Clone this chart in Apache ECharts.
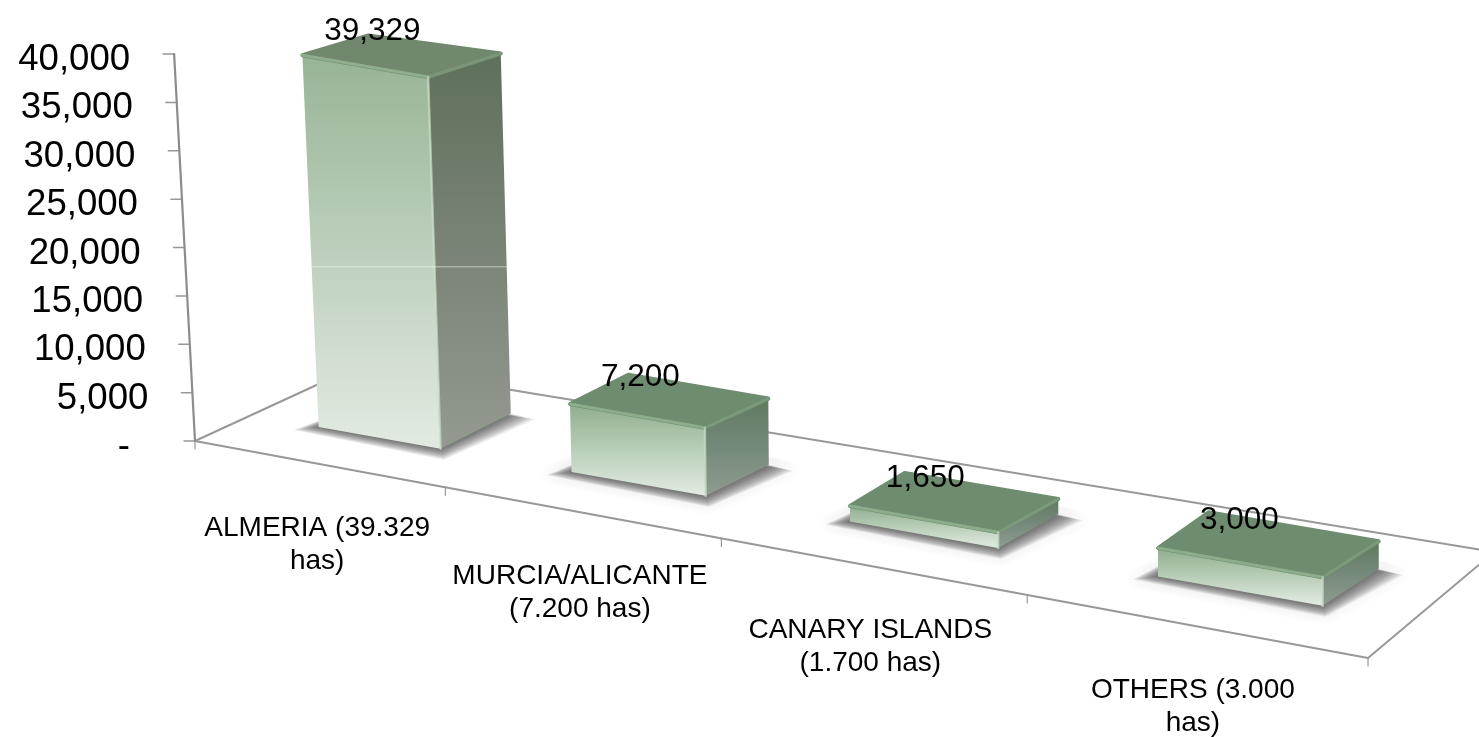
<!DOCTYPE html>
<html>
<head>
<meta charset="utf-8">
<style>html,body{margin:0;padding:0;background:#fff}#c{width:1479px;height:737px}</style>
<script src="https://cdn.jsdelivr.net/npm/echarts@6/dist/echarts.min.js"></script>
</head>
<body>
<div id="c"></div>
<script>
const categories = ["ALMERIA (39.329\nhas)", "MURCIA/ALICANTE\n(7.200 has)", "CANARY ISLANDS\n(1.700 has)", "OTHERS (3.000\nhas)"];
const values = [39329, 7200, 1650, 3000];
const valueLabels = ["39,329", "7,200", "1,650", "3,000"];
const yTickValues = [0, 5000, 10000, 15000, 20000, 25000, 30000, 35000, 40000];
const yTickLabels = ["-", "5,000", "10,000", "15,000", "20,000", "25,000", "30,000", "35,000", "40,000"];

const FONT = '"Liberation Sans", Arial, sans-serif';
const GRID = {left: 195, top: 54, width: 1173, height: 387};
const GREY = '#989898';
const gradient = (c0, c1, c2) => ({type: 'linear', x: 0, y: 0, x2: 0, y2: 1,
  colorStops: [{offset: 0, color: c0}, {offset: .5, color: c1}, {offset: 1, color: c2}]});

// Floor perspective: s runs along the front edge, t from front to back.
function floor(s, t) {
  const w = -0.1859 * s + 0.055 * t + 1;
  return [(918.7 * s + 184.8 * t + 195) / w, (94.7 * s - 55.9 * t + 441) / w];
}
// Lift a floor point by a height in pixels, with verticals leaning towards a low vanishing point.
function lift(p, h, t) {
  const k = h * (1 - 0.07 * t);
  return [p[0] - k * 0.07 * Math.max(0, 1 - p[0] / 850), p[1] - k];
}
const line = (a, b, stroke, lineWidth, z2) => ({type: 'line', z2: z2 || 0,
  shape: {x1: a[0], y1: a[1], x2: b[0], y2: b[1]}, style: {stroke, lineWidth, lineCap: 'round', fill: null}});
const poly = (points, style, z2) => ({type: 'polygon', z2: z2 || 0, shape: {points}, style});
const text = (str, x, y, size, align, lineHeight, z2) => ({type: 'text', x, y, z2: z2 || 0,
  style: {text: str, fontFamily: FONT, fontSize: size, fill: '#000', align: align, verticalAlign: 'middle', lineHeight}});

function renderFloor(params, api) {
  if (params.dataIndex !== 0) return;
  const kids = [];
  const A = floor(0, 0), B = floor(1, 0), C = floor(1, 1), D = floor(0, 1);
  kids.push(line(A, B, GREY, 2), line(B, C, GREY, 2), line(C, D, GREY, 2), line(D, A, GREY, 2));
  const y0 = api.coord([0, 0])[1];
  yTickValues.forEach((v, i) => {
    const y = api.coord([0, v])[1];
    const p = lift(A, y0 - y, 0);
    kids.push(line(p, [p[0] - 11, p[1]], GREY, 1.5));
    kids.push(text(yTickLabels[i], p[0] - (v === 0 ? 65 : 44), p[1] + 6, 36.6, 'right', 40));
  });
  kids.push(line(A, lift(A, y0 - api.coord([0, 40000])[1], 0), '#8c8c8c', 2.2));
  for (let i = 0; i <= categories.length; i++) {
    const p = floor(i / categories.length, 0);
    kids.push(line(p, [p[0], p[1] + 8], GREY, 1.2));
  }
  categories.forEach((c, i) => {
    const p = floor((i + .5) / categories.length, 0);
    kids.push(text(c, p[0], p[1] + 81, 28, 'center', 33));
  });
  return {type: 'group', children: kids};
}

function renderBar(params, api) {
  const i = api.value(0), v = api.value(1);
  const c = api.coord([i, v]), base = api.coord([i, 0]);
  const band = api.size([1, 0])[0] / GRID.width;
  const sc = (c[0] - GRID.left) / GRID.width + (0.025 - 0.008 * i) * band;
  const h = base[1] - c[1];
  const tall = v > 20000;
  const s0 = sc - 0.245 * band, s1 = sc + 0.245 * band, t0 = 0.33, t1 = tall ? 0.77 : 0.70, tb = tall ? 0.72 : 0.70;
  const FLb = floor(s0, t0), FRb = floor(s1, t0), BRb = floor(s1 + (tall ? 0 : 0.006), t1), BLb = floor(s0, tb);
  const FLt = lift(FLb, h, t0), FRt = lift(FRb, h, t0), BRt = lift(BRb, h, t1), BLt = lift(BLb, h, tb);
  const kids = [];
  const layers = 10;
  for (let j = layers; j >= 1; j--) {
    const f = j / layers;
    kids.push(poly([
      [FLb[0] - 25 * f, FLb[1] + 3 * f], [FRb[0] + 3 * f, FRb[1] + 11 * f],
      [BRb[0] + 24 * f, BRb[1] + 6 * f], [BLb[0], BLb[1]]
    ], {fill: 'rgba(50,50,50,0.085)', shadowBlur: 7, shadowColor: 'rgba(50,50,50,0.085)'}));
  }
  kids.push(poly([FRt, BRt, BRb, FRb], {
    fill: tall ? gradient('#5e705b', '#7a8476', '#939a90') : gradient('#5f7a60', '#75897a', '#8f9c90')
  }));
  kids.push(poly([FLt, FRt, FRb, FLb], {
    fill: tall ? gradient('#97b496', '#bdcfbc', '#e2ebe2') : gradient('#8fae8e', '#b9ceb8', '#e3ece3')
  }));
  const topC = tall ? '#71886f' : '#6e8c6f';
  kids.push(poly([FLt, FRt, BRt, BLt], {fill: topC, stroke: topC, lineWidth: 4, lineJoin: 'round'}));
  kids.push(line(FLt, FRt, tall ? '#8fae8e' : '#8cad8c', 3));
  kids.push(line(FRt, BRt, tall ? '#7b9579' : '#7b9a7c', 3));
  kids.push(line(FRt, FRb, 'rgba(200,222,198,0.7)', 2.5));
  if (i === 0) {
    const yb = api.coord([0, 18000])[1];
    kids.push(line([FLt[0], yb], [BRb[0] - 4, yb], 'rgba(255,255,255,0.55)', 1));
  }
  const mx = (FLt[0] + FRt[0] + BRt[0] + BLt[0]) / 4, my = (FLt[1] + FRt[1] + BRt[1] + BLt[1]) / 4;
  kids.push(text(valueLabels[i], mx - 27.5, my - 24, 31.5, 'center', 34, 50));
  return {type: 'group', children: kids};
}

const chart = echarts.init(document.getElementById('c'), null, {renderer: 'canvas'});
chart.setOption({
  animation: false,
  backgroundColor: '#fff',
  grid: {left: GRID.left, top: GRID.top, width: GRID.width, height: GRID.height},
  xAxis: {type: 'category', data: categories, show: false},
  yAxis: {type: 'value', min: 0, max: 40000, interval: 5000, show: false},
  series: [
    {type: 'custom', coordinateSystem: 'cartesian2d', z: 1, clip: false, silent: true,
      renderItem: renderFloor, data: values.map((v, i) => [i, v])},
    {type: 'custom', coordinateSystem: 'cartesian2d', z: 2, clip: false, silent: true,
      renderItem: renderBar, encode: {x: 0, y: 1}, data: values.map((v, i) => [i, v])}
  ]
});
</script>
</body>
</html>
